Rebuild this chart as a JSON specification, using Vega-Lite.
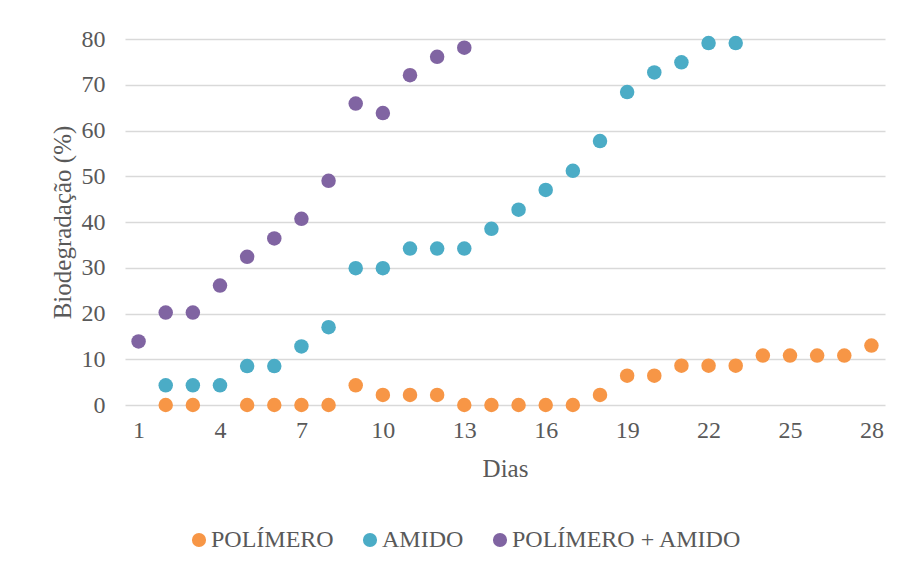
{
  "$schema": "https://vega.github.io/schema/vega-lite/v6.json",
  "autosize": {"type": "none"},
  "width": 760,
  "height": 366,
  "padding": {"left": 125, "top": 39, "right": 12, "bottom": 166},
  "background": "white",
  "config": {
    "font": "Liberation Serif",
    "view": {"stroke": null},
    "axis": {"labelFont": "Liberation Serif", "titleFont": "Liberation Serif", "labelColor": "#595959", "titleColor": "#595959", "titleFontWeight": "normal"},
    "legend": {"labelFont": "Liberation Serif", "labelColor": "#595959"}
  },
  "data": {
    "values": [
      {"dia": 2, "serie": "POLÍMERO", "valor": 0},
      {"dia": 3, "serie": "POLÍMERO", "valor": 0},
      {"dia": 5, "serie": "POLÍMERO", "valor": 0},
      {"dia": 6, "serie": "POLÍMERO", "valor": 0},
      {"dia": 7, "serie": "POLÍMERO", "valor": 0},
      {"dia": 8, "serie": "POLÍMERO", "valor": 0},
      {"dia": 9, "serie": "POLÍMERO", "valor": 4.3},
      {"dia": 10, "serie": "POLÍMERO", "valor": 2.2},
      {"dia": 11, "serie": "POLÍMERO", "valor": 2.2},
      {"dia": 12, "serie": "POLÍMERO", "valor": 2.2},
      {"dia": 13, "serie": "POLÍMERO", "valor": 0},
      {"dia": 14, "serie": "POLÍMERO", "valor": 0},
      {"dia": 15, "serie": "POLÍMERO", "valor": 0},
      {"dia": 16, "serie": "POLÍMERO", "valor": 0},
      {"dia": 17, "serie": "POLÍMERO", "valor": 0},
      {"dia": 18, "serie": "POLÍMERO", "valor": 2.2},
      {"dia": 19, "serie": "POLÍMERO", "valor": 6.4},
      {"dia": 20, "serie": "POLÍMERO", "valor": 6.4},
      {"dia": 21, "serie": "POLÍMERO", "valor": 8.6},
      {"dia": 22, "serie": "POLÍMERO", "valor": 8.6},
      {"dia": 23, "serie": "POLÍMERO", "valor": 8.6},
      {"dia": 24, "serie": "POLÍMERO", "valor": 10.8},
      {"dia": 25, "serie": "POLÍMERO", "valor": 10.8},
      {"dia": 26, "serie": "POLÍMERO", "valor": 10.8},
      {"dia": 27, "serie": "POLÍMERO", "valor": 10.8},
      {"dia": 28, "serie": "POLÍMERO", "valor": 13},
      {"dia": 2, "serie": "AMIDO", "valor": 4.3},
      {"dia": 3, "serie": "AMIDO", "valor": 4.3},
      {"dia": 4, "serie": "AMIDO", "valor": 4.3},
      {"dia": 5, "serie": "AMIDO", "valor": 8.5},
      {"dia": 6, "serie": "AMIDO", "valor": 8.5},
      {"dia": 7, "serie": "AMIDO", "valor": 12.8},
      {"dia": 8, "serie": "AMIDO", "valor": 17},
      {"dia": 9, "serie": "AMIDO", "valor": 29.9},
      {"dia": 10, "serie": "AMIDO", "valor": 29.9},
      {"dia": 11, "serie": "AMIDO", "valor": 34.2},
      {"dia": 12, "serie": "AMIDO", "valor": 34.2},
      {"dia": 13, "serie": "AMIDO", "valor": 34.2},
      {"dia": 14, "serie": "AMIDO", "valor": 38.5},
      {"dia": 15, "serie": "AMIDO", "valor": 42.7},
      {"dia": 16, "serie": "AMIDO", "valor": 47},
      {"dia": 17, "serie": "AMIDO", "valor": 51.2},
      {"dia": 18, "serie": "AMIDO", "valor": 57.7},
      {"dia": 19, "serie": "AMIDO", "valor": 68.4},
      {"dia": 20, "serie": "AMIDO", "valor": 72.7},
      {"dia": 21, "serie": "AMIDO", "valor": 74.9},
      {"dia": 22, "serie": "AMIDO", "valor": 79.1},
      {"dia": 23, "serie": "AMIDO", "valor": 79.1},
      {"dia": 1, "serie": "POLÍMERO + AMIDO", "valor": 13.9},
      {"dia": 2, "serie": "POLÍMERO + AMIDO", "valor": 20.2},
      {"dia": 3, "serie": "POLÍMERO + AMIDO", "valor": 20.2},
      {"dia": 4, "serie": "POLÍMERO + AMIDO", "valor": 26.1},
      {"dia": 5, "serie": "POLÍMERO + AMIDO", "valor": 32.4},
      {"dia": 6, "serie": "POLÍMERO + AMIDO", "valor": 36.4},
      {"dia": 7, "serie": "POLÍMERO + AMIDO", "valor": 40.7},
      {"dia": 8, "serie": "POLÍMERO + AMIDO", "valor": 49},
      {"dia": 9, "serie": "POLÍMERO + AMIDO", "valor": 65.9},
      {"dia": 10, "serie": "POLÍMERO + AMIDO", "valor": 63.8},
      {"dia": 11, "serie": "POLÍMERO + AMIDO", "valor": 72.1},
      {"dia": 12, "serie": "POLÍMERO + AMIDO", "valor": 76.1},
      {"dia": 13, "serie": "POLÍMERO + AMIDO", "valor": 78.1}
    ]
  },
  "mark": {"type": "circle", "size": 210, "opacity": 1},
  "encoding": {
    "x": {
      "field": "dia", "type": "quantitative",
      "scale": {"domain": [0.5, 28.5], "nice": false, "zero": false},
      "axis": {"values": [1,4,7,10,13,16,19,22,25,28], "title": "Dias", "grid": false, "domain": false, "ticks": false, "labelFontSize": 24, "labelPadding": 13, "titleFontSize": 25, "titlePadding": 14}
    },
    "y": {
      "field": "valor", "type": "quantitative",
      "scale": {"domain": [0, 80], "nice": false},
      "axis": {"values": [0,10,20,30,40,50,60,70,80], "title": "Biodegradação (%)", "domain": false, "ticks": false, "gridColor": "#d9d9d9", "gridWidth": 1.5, "labelFontSize": 24, "labelPadding": 20, "titleFontSize": 25, "titlePadding": 6}
    },
    "color": {
      "field": "serie", "type": "nominal",
      "scale": {"domain": ["POLÍMERO", "AMIDO", "POLÍMERO + AMIDO"], "range": ["#F79646", "#4BACC6", "#8064A2"]},
      "legend": {"title": null, "orient": "none", "direction": "horizontal", "legendX": 62, "legendY": 489, "symbolType": "circle", "symbolSize": 200, "symbolOpacity": 1, "labelFontSize": 24, "labelOffset": 0, "columnPadding": 24, "labelLimit": 400}
    }
  }
}
